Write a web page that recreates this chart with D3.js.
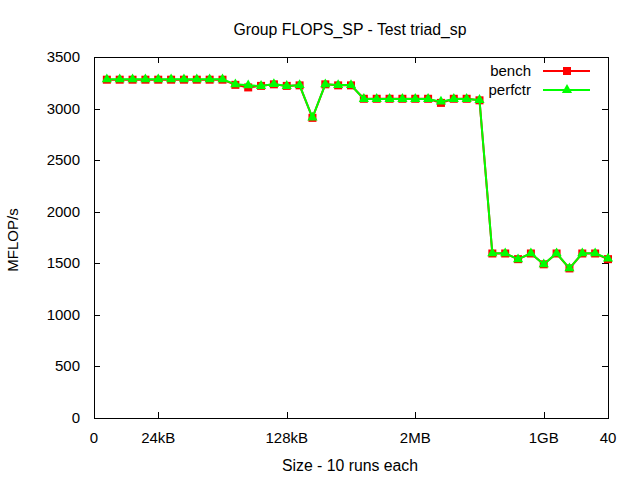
<!DOCTYPE html>
<html><head><meta charset="utf-8">
<script src="https://cdn.jsdelivr.net/npm/d3@7"></script>
<style>body{margin:0;background:#fff}svg{display:block}text{font-family:"Liberation Sans",Arial,sans-serif;font-size:15px;fill:#000}</style>
</head><body>
<script>
const sizes = d3.range(1, 41);
const bench = [3280,3280,3280,3280,3280,3280,3280,3280,3280,3280,
  3230,3205,3220,3235,3220,3225,2910,3235,3225,3225,
  3095,3095,3095,3095,3095,3095,3055,3095,3095,3080,
  1595,1595,1540,1595,1490,1595,1450,1595,1595,1540];
const perfctr = [3284,3284,3284,3284,3284,3284,3284,3284,3284,3284,
  3235,3225,3219,3238,3219,3228,2912,3235,3228,3228,
  3093,3093,3093,3093,3093,3093,3067,3093,3093,3083,
  1597,1597,1539,1597,1490,1597,1451,1597,1597,1545];
const xTickVals = [0,5,15,25,35,40];
const xTickLabels = ["0","24kB","128kB","2MB","1GB","40"];
const yTicks = [0,500,1000,1500,2000,2500,3000,3500];

const W=640,H=480, L=94, R=608, T=57, B=418;
const svg = d3.select("body").append("svg").attr("width",W).attr("height",H);
const x = d3.scaleLinear().domain([0,40]).range([L,R]);
const y = d3.scaleLinear().domain([0,3500]).range([B,T]);

// ticks (mirrored, inward)
const g = svg.append("g").attr("stroke","#000").attr("stroke-width",1);
xTickVals.forEach(v=>{
  const px=Math.round(x(v))+0.5;
  g.append("line").attr("x1",px).attr("x2",px).attr("y1",B).attr("y2",B-6);
  g.append("line").attr("x1",px).attr("x2",px).attr("y1",T).attr("y2",T+6);
});
yTicks.forEach(v=>{
  const py=Math.round(y(v))+0.5;
  g.append("line").attr("x1",L).attr("x2",L+6).attr("y1",py).attr("y2",py);
  g.append("line").attr("x1",R).attr("x2",R-6).attr("y1",py).attr("y2",py);
});
svg.append("rect").attr("x",L+0.5).attr("y",T+0.5).attr("width",R-L).attr("height",B-T)
  .attr("fill","none").attr("stroke","#000");

xTickVals.forEach((v,i)=>{
  svg.append("text").attr("x",x(v)).attr("y",443).attr("text-anchor","middle").text(xTickLabels[i]);
});
yTicks.forEach(v=>{
  svg.append("text").attr("x",80).attr("y",y(v)+5).attr("text-anchor","end").text(v);
});

svg.append("text").attr("x",350).attr("y",35).attr("text-anchor","middle").style("font-size","15.8px").text("Group FLOPS_SP - Test triad_sp");
svg.append("text").attr("x",350).attr("y",471).attr("text-anchor","middle").style("font-size","15.8px").text("Size - 10 runs each");
svg.append("text").attr("transform","translate(18,240) rotate(-90)").attr("text-anchor","middle").text("MFLOP/s");

const line = d3.line().x((d,i)=>x(sizes[i])).y(d=>y(d));
const tri = d3.symbol().type(d3.symbolTriangle).size(45);

svg.append("path").datum(bench).attr("d",line).attr("fill","none").attr("stroke","#ff0000").attr("stroke-width",2);
svg.append("g").selectAll("rect").data(bench).join("rect")
  .attr("x",(d,i)=>x(sizes[i])-4).attr("y",d=>y(d)-4).attr("width",8).attr("height",8).attr("fill","#ff0000");

svg.append("path").datum(perfctr).attr("d",line).attr("fill","none").attr("stroke","#00ff00").attr("stroke-width",2);
svg.append("g").selectAll("path").data(perfctr).join("path")
  .attr("transform",(d,i)=>`translate(${x(sizes[i])},${y(d)})`).attr("d",tri).attr("fill","#00ff00");

// legend
svg.append("text").attr("x",531).attr("y",76).attr("text-anchor","end").text("bench");
svg.append("line").attr("x1",543).attr("x2",590).attr("y1",71).attr("y2",71).attr("stroke","#ff0000").attr("stroke-width",2);
svg.append("rect").attr("x",563).attr("y",67).attr("width",8).attr("height",8).attr("fill","#ff0000");
svg.append("text").attr("x",531).attr("y",95).attr("text-anchor","end").text("perfctr");
svg.append("line").attr("x1",543).attr("x2",590).attr("y1",90).attr("y2",90).attr("stroke","#00ff00").attr("stroke-width",2);
svg.append("path").attr("transform","translate(567,90)").attr("d",tri).attr("fill","#00ff00");
</script>
</body></html>
